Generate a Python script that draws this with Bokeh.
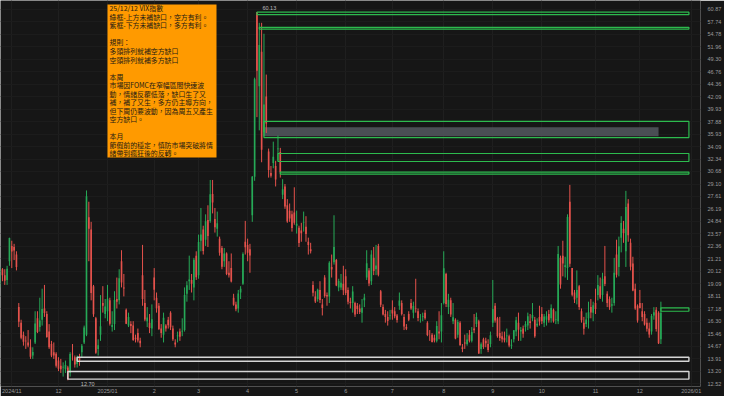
import pandas as pd
from bokeh.plotting import figure
from bokeh.models import Range1d, FixedTicker, PrintfTickFormatter, Label, ColumnDataSource, BoxAnnotation
from bokeh.embed import file_html
from bokeh.resources import INLINE

# ---------------- data (VIX daily OHLC, 2024-10-25 .. 2025-12-12) ----------------
first_day = "2024-10-25"
last_day = "2025-12-12"
holidays = ["2024-11-28", "2024-12-25", "2025-01-01", "2025-01-09", "2025-01-20",
            "2025-02-17", "2025-04-18", "2025-05-26", "2025-06-19", "2025-07-04",
            "2025-09-01", "2025-11-27", "2025-12-25", "2026-01-01", "2026-01-19"]

opens = [
    19.1, 20.3, 19.8, 19.4, 21.0,
    22.4, 22.3, 21.6, 17.3, 16.2, 15.4, 15.0, 14.9, 14.6, 14.1, 14.9, 16.5, 15.9, 16.4, 17.2, 16.8, 15.6, 14.8, 14.3, 14.2,
    13.8, 13.5, 13.4, 13.3, 13.4, 13.1, 14.2, 14.0, 13.6, 14.0, 14.3, 14.9, 15.4, 25.3, 24.0, 18.9, 16.5, 14.5, 15.4, 17.6, 16.8,
    17.0, 17.8, 15.9, 16.1, 17.9, 17.8, 21.0, 18.8, 17.1, 16.0, 16.1, 16.0, 15.2, 15.5, 15.0, 19.8, 17.6, 16.3, 16.2, 15.8,
    19.6, 18.0, 17.4, 15.8, 15.4, 16.0, 16.4, 16.9, 15.8, 14.9, 15.3, 15.6, 15.6, 15.7, 18.3, 19.3, 19.4, 18.8, 21.5,
    19.8, 22.9, 24.0, 23.0, 25.0, 24.9, 27.9, 25.1, 24.1, 23.1, 22.2, 21.0, 21.7, 20.0, 20.4, 18.0, 17.5, 17.2, 18.4, 19.1, 22.8,
    22.5, 22.1, 25.5, 30.0, 60.13, 44.0, 50.9, 36.2, 42.1, 33.4, 30.5, 31.8, 31.4, 33.7, 33.3, 27.8, 28.8, 26.6, 26.0, 25.6, 25.8,
    24.4, 24.2, 23.9, 24.7, 24.3, 22.8, 22.1, 19.0, 18.1, 17.9, 18.6, 17.5, 19.6, 18.2, 18.1, 20.5, 20.9, 21.1, 18.8, 18.8, 19.1,
    19.7, 18.6, 17.7, 17.6, 17.6, 17.4, 17.2, 16.9, 17.8, 19.6, 20.2, 19.3, 21.3, 20.3, 22.4, 18.5, 17.3, 16.8, 16.6, 16.7,
    17.1, 17.0, 16.7, 17.4, 17.6, 16.6, 15.9, 16.8, 17.6, 16.9, 17.2, 17.0, 16.4, 16.6, 16.9, 16.2, 15.4, 15.4, 15.2, 15.0, 15.6, 15.6,
    17.6, 19.9, 17.3, 17.8, 16.3, 16.4, 15.4, 16.2, 14.6, 14.9, 14.8, 15.4, 15.0, 15.8, 16.1, 16.3, 14.5, 15.1, 15.0, 14.8, 14.8,
    16.2, 17.4, 16.5, 15.5, 15.3, 15.2, 15.3, 15.3, 14.7, 15.1, 15.6, 16.2, 15.6, 15.8, 15.9, 16.0, 16.3, 16.5, 16.4, 16.0, 16.6,
    16.8, 16.2, 16.4, 16.8, 16.5, 17.1, 16.4, 16.3, 21.3, 21.5, 20.5, 20.4, 27.0, 20.4, 18.4, 18.0, 18.9, 17.0, 16.2, 16.1, 16.5, 17.3, 16.9,
    17.6, 18.2, 18.9, 18.2, 19.7, 18.3, 17.9, 17.4, 17.6, 21.6, 20.5, 23.2, 24.1, 21.9, 26.8, 22.7, 20.8, 18.7, 17.4,
    17.6, 17.0, 16.8, 16.2, 15.8, 15.6, 16.7, 17.1, 16.9, 15.1,
]
highs = [
    20.5, 20.4, 20.3, 20.6, 23.2,
    22.9, 22.6, 21.9, 17.6, 16.4, 15.6, 15.3, 15.7, 15.1, 14.6, 17.0, 17.0, 18.0, 18.7, 19.0, 17.0, 16.1, 15.0, 14.9, 14.3,
    14.0, 13.9, 13.7, 13.8, 13.5, 14.3, 14.8, 14.1, 14.1, 14.2, 14.8, 16.0, 28.32, 27.0, 24.8, 19.0, 16.6, 15.1, 18.2, 18.9, 17.9,
    19.0, 18.0, 17.0, 18.5, 19.6, 20.3, 22.0, 19.9, 17.2, 16.9, 16.3, 16.3, 15.4, 15.8, 15.2, 22.5, 18.6, 17.3, 16.8, 17.5,
    20.4, 18.4, 17.6, 16.1, 16.9, 16.1, 16.6, 17.0, 16.0, 15.1, 15.6, 15.8, 16.5, 18.8, 19.3, 21.5, 19.9, 21.3, 21.9,
    23.5, 26.3, 24.4, 25.6, 26.6, 29.6, 29.6, 26.3, 25.9, 23.3, 22.4, 22.2, 21.8, 21.0, 21.7, 18.3, 17.7, 18.6, 18.9, 21.8, 24.9,
    23.1, 22.6, 30.1, 45.6, 60.13, 57.5, 57.5, 54.9, 46.2, 33.8, 31.4, 34.8, 32.1, 35.7, 33.9, 29.7, 29.1, 27.3, 26.8, 26.0, 28.7,
    26.0, 24.4, 24.7, 25.9, 25.4, 23.2, 22.7, 19.3, 18.5, 18.7, 19.3, 17.9, 19.8, 18.4, 21.0, 21.6, 25.5, 21.2, 19.5, 19.9, 20.6,
    20.3, 18.8, 18.0, 18.9, 17.7, 17.6, 17.5, 17.9, 18.3, 22.0, 20.4, 22.0, 22.3, 22.5, 22.6, 18.6, 17.5, 17.1, 17.0, 17.1,
    17.8, 17.3, 16.8, 18.4, 17.8, 16.8, 16.1, 17.0, 17.9, 17.7, 19.5, 17.2, 16.8, 16.9, 17.1, 16.3, 15.7, 15.5, 15.4, 16.3, 17.0, 17.6,
    21.9, 20.0, 18.3, 18.0, 17.6, 16.5, 16.4, 16.3, 14.8, 15.4, 15.5, 15.7, 15.9, 16.8, 16.9, 16.4, 14.9, 15.2, 15.2, 15.1, 15.6,
    19.4, 17.6, 16.6, 16.6, 15.6, 15.6, 15.8, 15.4, 15.1, 15.7, 16.6, 16.9, 15.9, 16.0, 16.3, 16.9, 16.8, 17.6, 16.6, 16.5, 17.4,
    17.3, 16.8, 17.0, 17.1, 17.5, 17.2, 17.0, 22.4, 21.5, 22.9, 21.4, 25.6, 28.99, 20.4, 18.6, 20.2, 19.0, 17.2, 16.6, 16.9, 17.7, 17.9, 17.7,
    18.7, 19.8, 19.6, 20.0, 22.4, 18.5, 18.1, 18.0, 21.3, 23.0, 23.3, 25.4, 24.9, 28.27, 27.3, 23.1, 21.4, 19.1, 17.5,
    18.6, 17.6, 17.0, 16.5, 16.2, 16.8, 17.3, 17.3, 17.0, 17.7,
]
lows = [
    18.8, 19.3, 19.0, 19.0, 20.6,
    20.4, 21.1, 20.2, 15.9, 15.1, 14.7, 14.5, 14.6, 13.9, 13.9, 14.8, 15.5, 15.6, 16.0, 16.6, 15.2, 14.5, 14.0, 13.9, 13.4,
    13.2, 13.1, 12.9, 13.1, 12.70, 12.9, 13.8, 13.4, 13.4, 13.5, 14.0, 14.8, 15.3, 21.0, 17.8, 16.6, 14.2, 14.1, 15.0, 16.9, 16.5,
    16.3, 16.0, 15.6, 15.7, 17.2, 17.5, 18.8, 18.1, 16.1, 15.9, 15.5, 15.0, 14.9, 14.9, 14.6, 17.4, 16.3, 15.9, 15.5, 15.3,
    17.8, 16.9, 15.7, 15.2, 14.9, 15.6, 15.8, 15.7, 15.0, 14.6, 14.9, 15.0, 15.3, 15.6, 17.7, 18.6, 18.4, 17.8, 19.4,
    19.5, 21.9, 21.6, 22.4, 22.3, 24.7, 25.7, 23.7, 23.3, 21.5, 20.3, 20.5, 19.8, 19.6, 19.2, 17.4, 17.0, 16.9, 17.9, 19.0, 21.6,
    21.0, 20.0, 24.8, 29.5, 38.6, 36.5, 31.9, 35.6, 36.1, 29.9, 29.9, 31.1, 28.8, 32.1, 29.9, 27.3, 26.2, 24.7, 24.8, 23.8, 24.5,
    23.6, 22.3, 22.8, 23.8, 22.8, 21.6, 21.7, 18.1, 17.6, 17.7, 17.6, 16.7, 18.0, 17.4, 17.6, 19.6, 20.7, 18.9, 18.5, 18.6, 18.2,
    18.2, 17.5, 17.2, 16.9, 16.6, 16.8, 16.8, 16.2, 17.3, 19.4, 18.9, 19.0, 19.8, 19.8, 19.7, 17.3, 16.7, 16.2, 16.0, 16.4,
    16.4, 16.5, 16.2, 17.1, 16.7, 15.7, 15.7, 16.3, 17.1, 16.5, 16.9, 16.3, 16.2, 16.3, 16.4, 15.3, 15.0, 14.9, 14.9, 14.9, 15.1, 14.9,
    17.5, 17.3, 16.8, 16.6, 16.1, 15.1, 15.2, 14.7, 14.3, 14.5, 14.7, 14.9, 14.9, 15.5, 15.9, 14.2, 14.2, 14.5, 14.6, 14.3, 14.6,
    15.9, 16.2, 15.2, 15.0, 14.9, 14.9, 14.9, 14.6, 14.5, 14.9, 15.3, 15.0, 15.0, 15.2, 15.6, 15.7, 15.8, 16.3, 15.2, 15.9, 16.0,
    16.1, 15.9, 16.0, 16.2, 16.2, 16.2, 16.1, 16.1, 18.7, 19.7, 19.6, 19.4, 20.5, 18.1, 17.6, 17.5, 17.1, 16.2, 15.4, 15.9, 15.8, 16.5, 16.3,
    16.8, 17.8, 17.9, 17.7, 18.9, 17.3, 17.1, 16.9, 17.4, 19.6, 19.7, 21.8, 22.7, 20.5, 22.8, 20.2, 18.5, 17.1, 16.2,
    17.2, 16.3, 16.0, 15.6, 15.2, 15.4, 16.4, 15.6, 14.8, 14.8,
]
closes = [
    20.33, 19.80, 19.34, 20.35, 23.16,
    21.88, 21.98, 20.49, 16.27, 15.20, 14.94, 14.97, 14.71, 14.02, 14.31, 16.14, 15.58, 16.35, 17.16, 16.87, 15.24, 14.60, 14.10, 14.10, 13.51,
    13.34, 13.30, 13.45, 13.54, 12.77, 14.19, 14.18, 13.58, 13.92, 13.81, 14.69, 15.87, 27.62, 24.09, 18.36, 16.78, 14.27, 14.73, 15.95, 17.40, 17.35,
    17.93, 16.13, 16.04, 17.82, 17.70, 19.54, 19.19, 18.71, 16.12, 16.60, 15.97, 15.06, 15.10, 15.02, 14.85, 17.90, 16.41, 16.56, 15.84, 16.43,
    18.62, 17.21, 15.77, 15.50, 16.54, 15.81, 16.02, 15.89, 15.10, 14.77, 15.35, 15.27, 15.66, 18.21, 18.98, 19.43, 19.10, 21.13, 19.63,
    22.78, 23.51, 21.93, 24.87, 23.37, 27.86, 26.92, 24.23, 24.66, 21.77, 20.51, 21.70, 19.90, 19.80, 19.28, 17.48, 17.15, 18.33, 18.69, 21.65, 22.28,
    21.77, 21.51, 30.02, 45.31, 46.98, 52.33, 33.62, 40.72, 37.56, 30.89, 30.12, 32.64, 29.65, 33.82, 30.57, 28.45, 26.47, 24.84, 25.15, 24.17, 24.70,
    24.60, 22.68, 23.64, 24.76, 23.55, 22.48, 21.90, 18.39, 17.72, 18.62, 17.83, 17.24, 18.14, 18.09, 20.87, 20.28, 22.29, 18.96, 19.31, 19.18, 18.57,
    18.36, 17.69, 17.61, 18.48, 16.77, 17.16, 16.95, 17.26, 18.02, 20.82, 19.11, 21.60, 20.14, 20.62, 19.83, 17.48, 16.76, 16.59, 16.32, 16.73,
    16.83, 16.64, 16.38, 17.79, 16.81, 15.94, 15.78, 16.40, 17.20, 17.38, 17.16, 16.52, 16.41, 16.65, 16.50, 15.37, 15.39, 14.93, 15.03, 15.98, 15.48, 16.72,
    20.38, 17.52, 17.85, 16.77, 16.57, 15.15, 16.25, 14.73, 14.49, 14.83, 15.09, 15.00, 15.57, 15.69, 16.60, 14.22, 14.79, 14.62, 14.85, 14.43, 15.36,
    17.17, 16.35, 15.30, 15.18, 15.11, 15.04, 15.35, 14.71, 14.76, 15.69, 16.36, 15.72, 15.70, 15.45, 16.10, 16.64, 16.18, 16.74, 15.29, 16.12, 16.28,
    16.29, 16.63, 16.65, 16.37, 17.24, 16.30, 16.43, 21.66, 19.03, 20.81, 20.64, 25.31, 20.78, 18.23, 17.87, 18.60, 17.30, 16.37, 15.79, 16.42, 16.92, 16.91, 17.44,
    17.17, 19.00, 18.01, 19.50, 19.08, 17.60, 17.28, 17.51, 20.00, 19.83, 22.38, 24.69, 23.66, 26.42, 23.43, 20.52, 18.56, 17.19, 16.35,
    17.24, 16.59, 16.08, 15.78, 15.41, 16.66, 16.93, 15.77, 14.85, 16.90,
]

# unfilled gaps: green = above (空方有利), light = below (多方有利)
gap_up_start = ["2025-04-07", "2025-04-08", "2025-04-10", "2025-04-21", "2025-04-22", "2025-12-12"]
gap_up_bottom = [59.5, 56.0, 35.4, 32.0, 30.35, 17.0]
gap_up_top = [60.13, 56.4, 37.9, 33.1, 30.6, 17.25]
gap_dn_start = ["2024-12-06", "2024-12-12"]
gap_dn_bottom = [12.76, 13.76]
gap_dn_top = [13.18, 14.0]
gap_end = "2025-12-31"
shade_start, shade_end = "2025-04-10", "2025-12-11"
shade_bottom, shade_top = 35.6, 37.0

y_ticks = [60.87, 57.74, 54.78, 51.96, 49.30, 46.76, 44.36, 42.09, 39.93, 37.88, 35.93,
           34.09, 32.34, 30.68, 29.10, 27.61, 26.19, 24.84, 23.57, 22.36, 21.21, 20.12,
           19.09, 18.11, 17.18, 16.30, 15.46, 14.67, 13.91, 13.20, 12.52]

note_lines = [
    "25/12/12 VIX指數",
    "綠框-上方未補缺口，空方有利。",
    "紫框-下方未補缺口，多方有利。",
    "",
    "規則：",
    "多頭排列就補空方缺口",
    "空頭排列就補多方缺口",
    "",
    "本周",
    "市場因FOMC在窄幅區間快速波",
    "動，情緒反覆低落，缺口生了又",
    "補，補了又生，多方仍主導方向，",
    "但下周仍要波動，因為周五又產生",
    "空方缺口。",
    "",
    "本月",
    "節假前的穩定，慎防市場突破將情",
    "緒帶到瘋狂後的反轉。",
]

# ---------------- trading-day axis ----------------
cal = [d for d in pd.bdate_range(first_day, "2026-01-30") if d.strftime("%Y-%m-%d") not in holidays]
pos = {d.strftime("%Y-%m-%d"): k for k, d in enumerate(cal)}
dates = [d for d in cal if d <= pd.Timestamp(last_day)]
assert len(dates) == len(opens) == len(highs) == len(lows) == len(closes)

xs = list(range(len(dates)))
up_c, dn_c = "#26a957", "#e5524c"
colors = [up_c if c >= o else dn_c for o, c in zip(opens, closes)]
src = ColumnDataSource(dict(
    x=xs, high=highs, low=lows,
    top=[max(o, c) for o, c in zip(opens, closes)],
    bottom=[min(o, c) for o, c in zip(opens, closes)],
    color=colors))

# month ticks: first trading day of each month
tick_x, tick_lab = [], []
seen = set()
for k, d in enumerate(cal):
    key = (d.year, d.month)
    if key in seen:
        continue
    seen.add(key)
    if d > pd.Timestamp("2026-01-05"):
        break
    if k == 0:
        continue
    tick_x.append(k)
    tick_lab.append(f"{d.year}/{d.month:02d}" if (d.month == 1 or len(tick_x) == 1) else str(d.month))

BG = "#161616"
AX = "#9b9b9b"
p = figure(width=724, height=396, y_axis_type="log", y_axis_location="right",
           x_range=Range1d(0.17, 299.96), y_range=Range1d(12.37, 63.18),
           background_fill_color=BG, border_fill_color=BG, outline_line_color=None,
           min_border_left=0, min_border_top=0, min_border_right=24, min_border_bottom=9,
           toolbar_location=None, output_backend="svg")

p.xaxis.ticker = FixedTicker(ticks=tick_x)
p.xaxis.major_label_overrides = {t: l for t, l in zip(tick_x, tick_lab)}
p.yaxis.ticker = FixedTicker(ticks=y_ticks)
p.yaxis.formatter = PrintfTickFormatter(format="%.2f")
for ax in (p.xaxis[0], p.yaxis[0]):
    ax.axis_line_color = None
    ax.major_tick_line_color = None
    ax.minor_tick_line_color = None
    ax.major_tick_out = 0
    ax.major_tick_in = 0
    ax.minor_tick_out = 0
    ax.major_label_text_color = AX
    ax.major_label_text_font = "Liberation Sans"
    ax.major_label_text_font_size = "5.5px"
p.xaxis.major_label_standoff = 1
p.yaxis.major_label_standoff = 7
p.xgrid.grid_line_color = "#1f1f1f"
p.ygrid.grid_line_color = "#1c1c1c"

# shaded zone
p.quad(left=[pos[shade_start]], right=[pos[shade_end]], bottom=[shade_bottom], top=[shade_top],
       fill_color="#50545b", fill_alpha=0.9, line_color=None)

# candles
p.segment(x0="x", y0="low", x1="x", y1="high", line_color="color", line_width=1, source=src)
p.vbar(x="x", width=0.7, top="top", bottom="bottom", fill_color="color", line_color=None, source=src)

# gap boxes
p.quad(left=[pos[s] for s in gap_up_start], right=[pos[gap_end]] * len(gap_up_start),
       bottom=gap_up_bottom, top=gap_up_top, fill_color=None, line_color="#2dbb4e", line_width=1.2)
p.quad(left=[pos[s] for s in gap_dn_start], right=[pos[gap_end]] * len(gap_dn_start),
       bottom=gap_dn_bottom, top=gap_dn_top, fill_color=None, line_color="#d6d6d6", line_width=1.4)

# high / low markers
hi_k = max(range(len(highs)), key=lambda k: highs[k])
lo_k = min(range(len(lows)), key=lambda k: lows[k])
p.add_layout(Label(x=hi_k, y=highs[hi_k], text=f"{highs[hi_k]:.2f}", x_offset=5.5, y_offset=2,
                   text_align="left", text_baseline="bottom", text_color="#bdbdbd",
                   text_font="Liberation Sans", text_font_size="5.5px"))
p.add_layout(Label(x=lo_k, y=lows[lo_k], text=f"{lows[lo_k]:.2f}", x_offset=13, y_offset=-2,
                   text_align="left", text_baseline="top", text_color="#bdbdbd",
                   text_font="Liberation Sans", text_font_size="5.5px"))

# note box (screen units inside the frame)
p.add_layout(BoxAnnotation(left=107, right=216, top=382, bottom=229,
                           left_units="screen", right_units="screen",
                           top_units="screen", bottom_units="screen",
                           fill_color="#ff9a00", fill_alpha=1.0, line_color=None))
for k, line in enumerate(note_lines):
    if not line:
        continue
    p.add_layout(Label(x=109, y=378.2 - 8.54 * k, x_units="screen", y_units="screen",
                       text=line, text_font="Noto Sans CJK TC", text_font_size="6.9px",
                       text_color="#1e1a14", text_align="left", text_baseline="middle"))

open("out.html", "w").write(file_html(p, INLINE))
